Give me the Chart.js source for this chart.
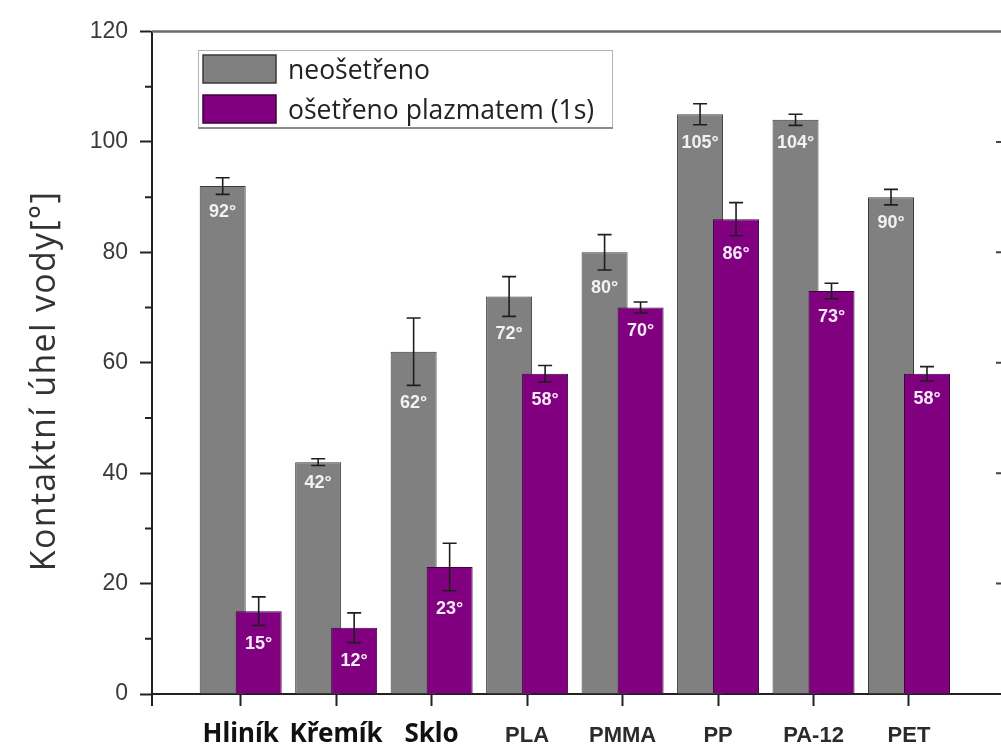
<!DOCTYPE html>
<html>
<head>
<meta charset="utf-8">
<script src="https://cdn.jsdelivr.net/npm/chart.js@4.4.0/dist/chart.umd.min.js"></script>
<style>
  html, body { margin: 0; padding: 0; background: #fff; overflow: hidden; }
  canvas { display: block; }
</style>
</head>
<body>
<canvas id="c" width="1010" height="744"></canvas>
<script>
// Materials and measured water contact angles (degrees)
const categories = ['Hliník', 'Křemík', 'Sklo', 'PLA', 'PMMA', 'PP', 'PA-12', 'PET'];
const untreated = [92, 42, 62, 72, 80, 105, 104, 90];
const untreatedErr = [1.5, 0.6, 6.1, 3.6, 3.2, 1.9, 1.0, 1.4];
const treated = [15, 12, 23, 58, 70, 86, 73, 58];
const treatedErr = [2.6, 2.7, 4.3, 1.5, 1.0, 3.0, 1.4, 1.3];
const yTicks = [0, 20, 40, 60, 80, 100, 120];
const yMinorTicks = [10, 30, 50, 70, 90, 110];
const seriesNames = ['neošetřeno', 'ošetřeno plazmatem (1s)'];
const yTitle = 'Kontaktní úhel vody[°]';

const toPoints = vals => vals.map((v, i) => ({ x: i, y: v }));

const AXIS = '#222';
const SANS = "'Liberation Sans', Arial, sans-serif";
const OPEN = "'Open Sans', sans-serif";
const NOTO = "'Noto Sans', sans-serif";

// Bars are drawn left-to-right so the treated bar overlaps the untreated one,
// then error bars and the in-bar value labels go on top.
const barsPlugin = {
  id: 'barsOnTop',
  beforeDatasetDraw() { return false; },
  afterDatasetsDraw(chart) {
    const ctx = chart.ctx;
    const area = chart.chartArea;
    const metas = chart.getSortedVisibleDatasetMetas().slice().sort((a, b) => a.index - b.index);
    ctx.save();
    ctx.beginPath();
    ctx.rect(area.left, area.top, area.width, area.height);
    ctx.clip();
    metas.forEach(m => m.controller.draw());
    ctx.restore();

    const y = chart.scales.y;
    ctx.save();
    metas.forEach(m => {
      const ds = chart.data.datasets[m.index];
      m.data.forEach((bar, i) => {
        const v = ds.data[i].y;
        const e = ds.errors[i];
        const top = y.getPixelForValue(v + e);
        const bot = y.getPixelForValue(v - e);
        ctx.strokeStyle = '#1e1e1e';
        ctx.lineWidth = 1.6;
        ctx.beginPath();
        ctx.moveTo(bar.x, top); ctx.lineTo(bar.x, bot);
        ctx.moveTo(bar.x - 7, top); ctx.lineTo(bar.x + 7, top);
        ctx.moveTo(bar.x - 7, bot); ctx.lineTo(bar.x + 7, bot);
        ctx.stroke();
      });
    });
    metas.forEach(m => {
      const ds = chart.data.datasets[m.index];
      ctx.fillStyle = ds.valueColor;
      ctx.font = 'bold 18px ' + SANS;
      ctx.textAlign = 'center';
      ctx.textBaseline = 'middle';
      m.data.forEach((bar, i) => {
        const v = ds.data[i].y;
        const bot = y.getPixelForValue(v - ds.errors[i]);
        ctx.fillText(v + '°', bar.x, bot + 18);
      });
    });
    ctx.restore();
  }
};

// Frame details: minor ticks, top border, right-hand ticks, axis overhang
const framePlugin = {
  id: 'frame',
  afterDraw(chart) {
    const ctx = chart.ctx;
    const a = chart.chartArea;
    const y = chart.scales.y;
    ctx.save();
    ctx.strokeStyle = AXIS;
    ctx.lineWidth = 2;
    ctx.beginPath();
    yMinorTicks.forEach(v => {
      const p = y.getPixelForValue(v);
      ctx.moveTo(a.left - 7, p); ctx.lineTo(a.left, p);
    });
    ctx.moveTo(a.left, a.bottom); ctx.lineTo(a.left, a.bottom + 12);
    ctx.stroke();

    ctx.strokeStyle = '#444';
    ctx.beginPath();
    yTicks.slice(1, -1).forEach(v => {
      const p = y.getPixelForValue(v);
      ctx.moveTo(a.right - 12, p); ctx.lineTo(a.right, p);
    });
    ctx.stroke();

    ctx.strokeStyle = '#6e6e6e';
    ctx.lineWidth = 2.5;
    ctx.beginPath();
    ctx.moveTo(a.left, a.top); ctx.lineTo(a.right, a.top);
    ctx.stroke();
    ctx.restore();
  }
};

// Boxed legend stacked vertically in the upper-left corner of the plot
const legendPlugin = {
  id: 'boxLegend',
  afterDraw(chart) {
    const ctx = chart.ctx;
    const box = { x: 198, y: 50, w: 414, h: 77 };
    ctx.save();
    ctx.fillStyle = '#fff';
    ctx.fillRect(box.x, box.y, box.w, box.h);
    ctx.strokeStyle = '#b4b4b4';
    ctx.lineWidth = 1;
    ctx.strokeRect(box.x + 0.5, box.y + 0.5, box.w, box.h);
    ctx.strokeStyle = '#8c8c8c';
    ctx.lineWidth = 2;
    ctx.beginPath();
    ctx.moveTo(box.x, box.y + box.h + 1); ctx.lineTo(box.x + box.w + 1, box.y + box.h + 1);
    ctx.stroke();

    chart.data.datasets.forEach((ds, i) => {
      const top = 55 + i * 40;
      ctx.fillStyle = ds.backgroundColor;
      ctx.fillRect(203, top, 73, 28);
      ctx.strokeStyle = ds.borderColor;
      ctx.lineWidth = 1.5;
      ctx.strokeRect(203, top, 73, 28);
      ctx.fillStyle = '#222';
      ctx.font = '26.5px ' + OPEN;
      ctx.textAlign = 'left';
      ctx.textBaseline = 'alphabetic';
      ctx.fillText(ds.label, 288, top + 24);
    });
    ctx.restore();
  }
};

// Rotated y-axis title
const titlePlugin = {
  id: 'yTitle',
  afterDraw(chart) {
    const ctx = chart.ctx;
    ctx.save();
    ctx.translate(55, 381);
    ctx.rotate(-Math.PI / 2);
    ctx.fillStyle = '#333';
    ctx.font = '34px ' + OPEN;
    ctx.letterSpacing = '1.3px';
    ctx.textAlign = 'center';
    ctx.textBaseline = 'alphabetic';
    ctx.fillText(yTitle, 0, 0);
    ctx.restore();
  }
};

const axisGrid = {
  display: true,
  drawOnChartArea: false,
  drawTicks: true,
  tickLength: 12,
  tickWidth: 2,
  tickColor: AXIS,
  offset: false
};

new Chart(document.getElementById('c'), {
  type: 'bar',
  data: {
    datasets: [
      {
        label: seriesNames[0],
        data: toPoints(untreated),
        errors: untreatedErr,
        backgroundColor: '#808080',
        borderColor: '#3a3a3a',
        valueColor: '#f2f2f2',
        borderWidth: 1
      },
      {
        label: seriesNames[1],
        data: toPoints(treated),
        errors: treatedErr,
        backgroundColor: '#800080',
        borderColor: '#3e003e',
        valueColor: '#f8eaf8',
        borderWidth: 1
      }
    ]
  },
  options: {
    responsive: false,
    animation: false,
    devicePixelRatio: 1,
    categoryPercentage: 0.754,
    barPercentage: 1.278,
    layout: { padding: { top: 31.5, right: 2, left: 0, bottom: 0 } },
    plugins: {
      legend: { display: false },
      tooltip: { enabled: false }
    },
    scales: {
      x: {
        type: 'linear',
        offset: false,
        min: -0.929,
        max: 8.037,
        afterBuildTicks: s => { s.ticks = categories.map((_, i) => ({ value: i })); },
        afterFit: s => { s.height = 50; },
        ticks: {
          autoSkip: false,
          maxRotation: 0,
          minRotation: 0,
          padding: 13,
          callback: v => categories[v] ?? '',
          font: c => c.index < 3
            ? { family: NOTO, size: 26, weight: 'bold', lineHeight: 1.2 }
            : { family: SANS, size: 22, weight: 'bold', lineHeight: 1.555 },
          color: c => c.index < 3 ? '#111' : '#2b2b2b'
        },
        grid: axisGrid,
        border: { display: true, color: AXIS, width: 2 }
      },
      y: {
        min: 0,
        max: 120,
        afterBuildTicks: s => { s.ticks = yTicks.map(v => ({ value: v })); },
        afterFit: s => { s.width = 152; },
        ticks: {
          padding: 12,
          font: { family: SANS, size: 23 },
          color: '#3a3a3a'
        },
        grid: axisGrid,
        border: { display: true, color: AXIS, width: 2 }
      }
    }
  },
  plugins: [barsPlugin, framePlugin, legendPlugin, titlePlugin]
});
</script>
</body>
</html>
